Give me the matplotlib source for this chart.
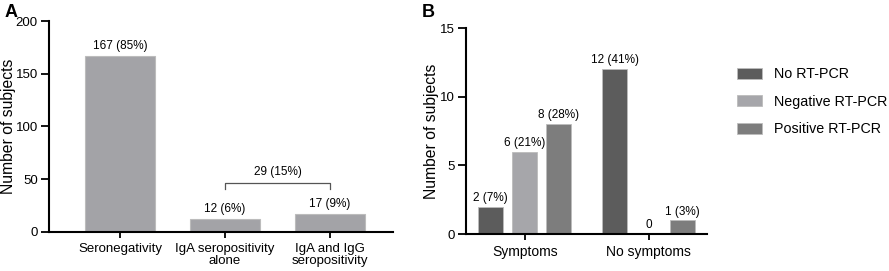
import numpy as np
import matplotlib.pyplot as plt

plt.rcParams['font.family'] = ['Liberation Sans', 'DejaVu Sans']

# Panel A data
a_categories = ['Seronegativity', 'IgA seropositivity\nalone', 'IgA and IgG\nseropositivity']
a_counts = [167, 12, 17]
a_labels = ['167 (85%)', '12 (6%)', '17 (9%)']
a_bracket_label = '29 (15%)'
a_bracket_value = 46

# Panel B data
b_groups = ['Symptoms', 'No symptoms']
b_series = ['No RT-PCR', 'Negative RT-PCR', 'Positive RT-PCR']
b_counts = [[2, 12], [6, 0], [8, 1]]
b_labels = [['2 (7%)', '12 (41%)'], ['6 (21%)', '0'], ['8 (28%)', '1 (3%)']]
b_colors = ['#5c5c5c', '#a6a6aa', '#7d7d7d']

fig = plt.figure(figsize=(8.89, 2.71), dpi=100)
axA = fig.add_axes([0.0551, 0.144, 0.387, 0.7785])
axB = fig.add_axes([0.524, 0.1365, 0.271, 0.760])

for ax in (axA, axB):
    ax.spines['top'].set_visible(False)
    ax.spines['right'].set_visible(False)
    ax.spines['left'].set_linewidth(1.5)
    ax.spines['bottom'].set_linewidth(1.5)
    ax.tick_params(direction='out', width=1.3, length=4.5, labelsize=9.5)
    ax.tick_params(axis='y', length=6, pad=2)
    ax.set_ylabel('Number of subjects', fontsize=11.3)

# Panel A
x = np.arange(len(a_categories))
axA.bar(x, a_counts, width=0.667, color='#a3a3a7', edgecolor='#bcbcbc', linewidth=0.8)
for xi, v, lab in zip(x, a_counts, a_labels):
    axA.annotate(lab, (xi, v), xytext=(0, 3), textcoords='offset points',
                 ha='center', va='bottom', fontsize=8.5)
axA.plot([1, 1, 2, 2], [a_bracket_value - 5, a_bracket_value, a_bracket_value, a_bracket_value - 5],
         color='#555555', lw=0.9)
axA.annotate(a_bracket_label, (1.5, a_bracket_value), xytext=(0, 4), textcoords='offset points',
             ha='center', va='bottom', fontsize=8.5)
axA.set_xticks(x)
axA.set_xticklabels(a_categories, fontsize=9.5, linespacing=1.0)
axA.set_xlim(-0.676, 2.6)
axA.set_ylim(0, 200)
axA.set_yticks([0, 50, 100, 150, 200])
axA.yaxis.set_label_coords(-0.097, 0.5)

# Panel B
g = np.arange(len(b_groups))
width = 0.2
step = 0.275
for i, (name, vals, labs, col) in enumerate(zip(b_series, b_counts, b_labels, b_colors)):
    pos = g + (i - 1) * step
    axB.bar(pos, vals, width=width, color=col, edgecolor='#bcbcbc', linewidth=0.6, label=name)
    for p, v, lab in zip(pos, vals, labs):
        axB.annotate(lab, (p, v), xytext=(0, 2), textcoords='offset points',
                     ha='center', va='bottom', fontsize=8.5)
axB.set_xticks(g)
axB.set_xticklabels(b_groups, fontsize=10)
axB.set_xlim(-0.476, 1.47)
axB.set_ylim(0, 15)
axB.set_yticks([0, 5, 10, 15])
axB.yaxis.set_label_coords(-0.112, 0.5)

fig.legend(loc='upper left', bbox_to_anchor=(0.814, 0.80), frameon=False, fontsize=10.3,
           handlelength=1.8, handleheight=0.8, labelspacing=0.95, handletextpad=0.8)

fig.text(0.005, 0.955, 'A', fontsize=13, fontweight='bold', va='center')
fig.text(0.474, 0.955, 'B', fontsize=13, fontweight='bold', va='center')

fig.savefig('out.png', dpi=100)
